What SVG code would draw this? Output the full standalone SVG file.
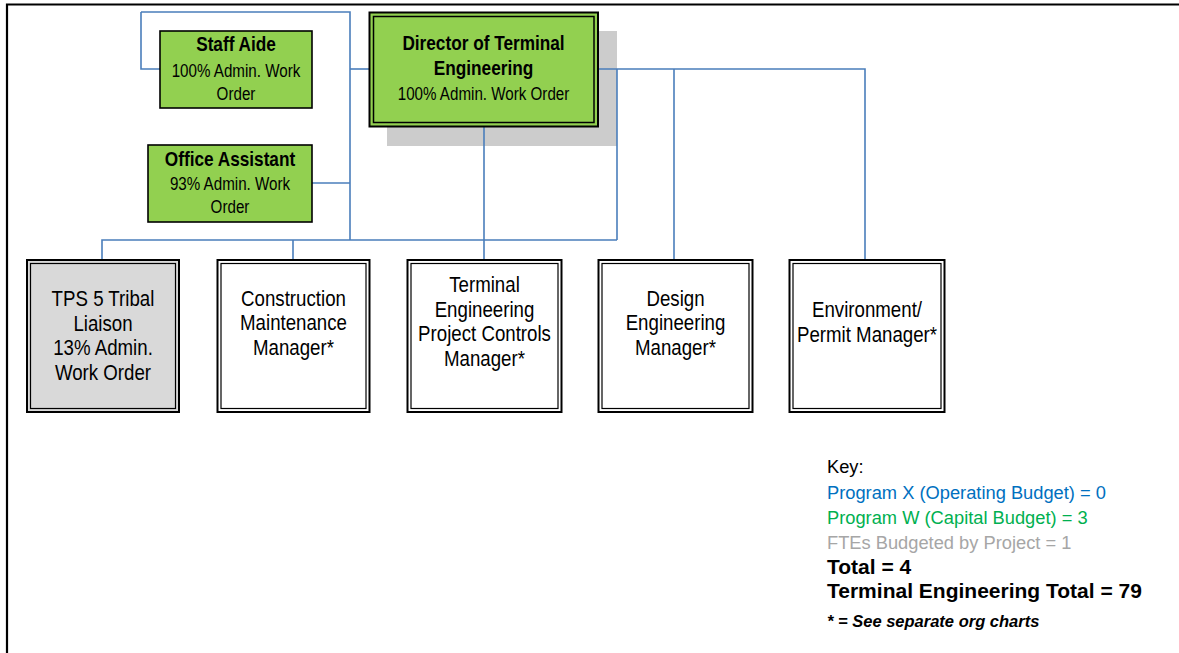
<svg xmlns="http://www.w3.org/2000/svg" width="1179" height="653" viewBox="0 0 1179 653">
<style>
.frame{fill:none;stroke:#000;stroke-width:2.2}
.conn{fill:none;stroke:#4a7ebb;stroke-width:1.6}
.out{fill:#fff;stroke:#000;stroke-width:2}
.inn{fill:none;stroke:#000;stroke-width:1.2}
.gray{fill:#d9d9d9}
.green{fill:#92d050}
.single{fill:#92d050;stroke:#000;stroke-width:1.6}
.t{font-family:"Liberation Sans",Arial,sans-serif;text-anchor:middle;fill:#000}
.b{font-weight:bold;font-size:21px}
.r{font-size:18.5px}
.m{font-size:22.8px}
.k{font-family:"Liberation Sans",Arial,sans-serif;font-size:18.3px}
.kb{font-family:"Liberation Sans",Arial,sans-serif;font-size:21px;font-weight:bold}
</style>
<rect width="1179" height="653" fill="#fff"/>
<path class="frame" d="M7,653 V4.5 H1179"/>
<g id="director-shadow"><rect x="387" y="31" width="230" height="115" fill="#cccccc"/></g>
<g id="connectors">
<path class="conn" d="M141,12 H350 V240"/>
<path class="conn" d="M141,12 V69 H160"/>
<path class="conn" d="M350,69 H369"/>
<path class="conn" d="M312,183 H350"/>
<path class="conn" d="M484,127 V259"/>
<path class="conn" d="M598,69 H865 V259"/>
<path class="conn" d="M617,69 V240"/>
<path class="conn" d="M674,69 V259"/>
<path class="conn" d="M102,259 V240 H617"/>
<path class="conn" d="M293,240 V259"/>
</g>
<g id="staff-aide">
<rect class="single" x="160" y="31" width="152" height="77"/>
<g transform="matrix(0.82 0 0 1 236 0)">
<text class="t b" x="0" y="51">Staff Aide</text>
<text class="t r" x="0" y="77">100% Admin. Work</text>
<text class="t r" x="0" y="100">Order</text>
</g>
</g>
<g id="director">
<rect class="out green" x="369.5" y="12.5" width="228.5" height="114"/>
<rect class="inn" x="373.5" y="16.5" width="220.5" height="106" style="stroke-width:1.5"/>
<g transform="matrix(0.82 0 0 1 483.5 0)">
<text class="t b" x="0" y="50">Director of Terminal</text>
<text class="t b" x="0" y="75">Engineering</text>
<text class="t r" x="0" y="100">100% Admin. Work Order</text>
</g>
</g>
<g id="office-assistant">
<rect class="single" x="148" y="145" width="164" height="77"/>
<g transform="matrix(0.82 0 0 1 230 0)">
<text class="t b" x="0" y="166">Office Assistant</text>
<text class="t r" x="0" y="190">93% Admin. Work</text>
<text class="t r" x="0" y="213">Order</text>
</g>
</g>
<g id="tps-liaison">
<rect class="out gray" x="27" y="260" width="152" height="152"/>
<rect class="inn" x="30.5" y="263.5" width="145" height="145"/>
<g transform="matrix(0.82 0 0 1 103 0)">
<text class="t m" x="0" y="306.5">TPS 5 Tribal</text>
<text class="t m" x="0" y="331">Liaison</text>
<text class="t m" x="0" y="355.5">13% Admin.</text>
<text class="t m" x="0" y="380">Work Order</text>
</g>
</g>
<g id="construction-maintenance">
<rect class="out" x="217.5" y="260" width="152" height="152"/>
<rect class="inn" x="221" y="263.5" width="145" height="145"/>
<g transform="matrix(0.82 0 0 1 293.5 0)">
<text class="t m" x="0" y="306">Construction</text>
<text class="t m" x="0" y="330.5">Maintenance</text>
<text class="t m" x="0" y="355">Manager*</text>
</g>
</g>
<g id="project-controls">
<rect class="out" x="407.5" y="260" width="154" height="152"/>
<rect class="inn" x="411" y="263.5" width="147" height="145"/>
<g transform="matrix(0.82 0 0 1 484.5 0)">
<text class="t m" x="0" y="292">Terminal</text>
<text class="t m" x="0" y="317">Engineering</text>
<text class="t m" x="0" y="341.5">Project Controls</text>
<text class="t m" x="0" y="366.5">Manager*</text>
</g>
</g>
<g id="design-engineering">
<rect class="out" x="598.5" y="260" width="154" height="152"/>
<rect class="inn" x="602" y="263.5" width="147" height="145"/>
<g transform="matrix(0.82 0 0 1 675.5 0)">
<text class="t m" x="0" y="306">Design</text>
<text class="t m" x="0" y="330.5">Engineering</text>
<text class="t m" x="0" y="355">Manager*</text>
</g>
</g>
<g id="environment-permit">
<rect class="out" x="789.5" y="260" width="155" height="152"/>
<rect class="inn" x="793" y="263.5" width="148" height="145"/>
<g transform="matrix(0.82 0 0 1 867 0)">
<text class="t m" x="0" y="317">Environment/</text>
<text class="t m" x="0" y="342">Permit Manager*</text>
</g>
</g>
<g id="key">
<text class="k" x="827" y="472.5" fill="#000">Key:</text>
<text class="k" x="827" y="499" fill="#0070c0">Program X (Operating Budget) = 0</text>
<text class="k" x="827" y="524" fill="#00b050">Program W (Capital Budget) = 3</text>
<text class="k" x="827" y="549" fill="#a6a6a6">FTEs Budgeted by Project = 1</text>
<text class="kb" x="827" y="574" fill="#000">Total = 4</text>
<text class="kb" x="827" y="598" fill="#000">Terminal Engineering Total = 79</text>
<text x="827" y="627" fill="#000" style="font-family:'Liberation Sans',Arial,sans-serif;font-size:16.5px;font-weight:bold;font-style:italic">* = See separate org charts</text>
</g>
</svg>
